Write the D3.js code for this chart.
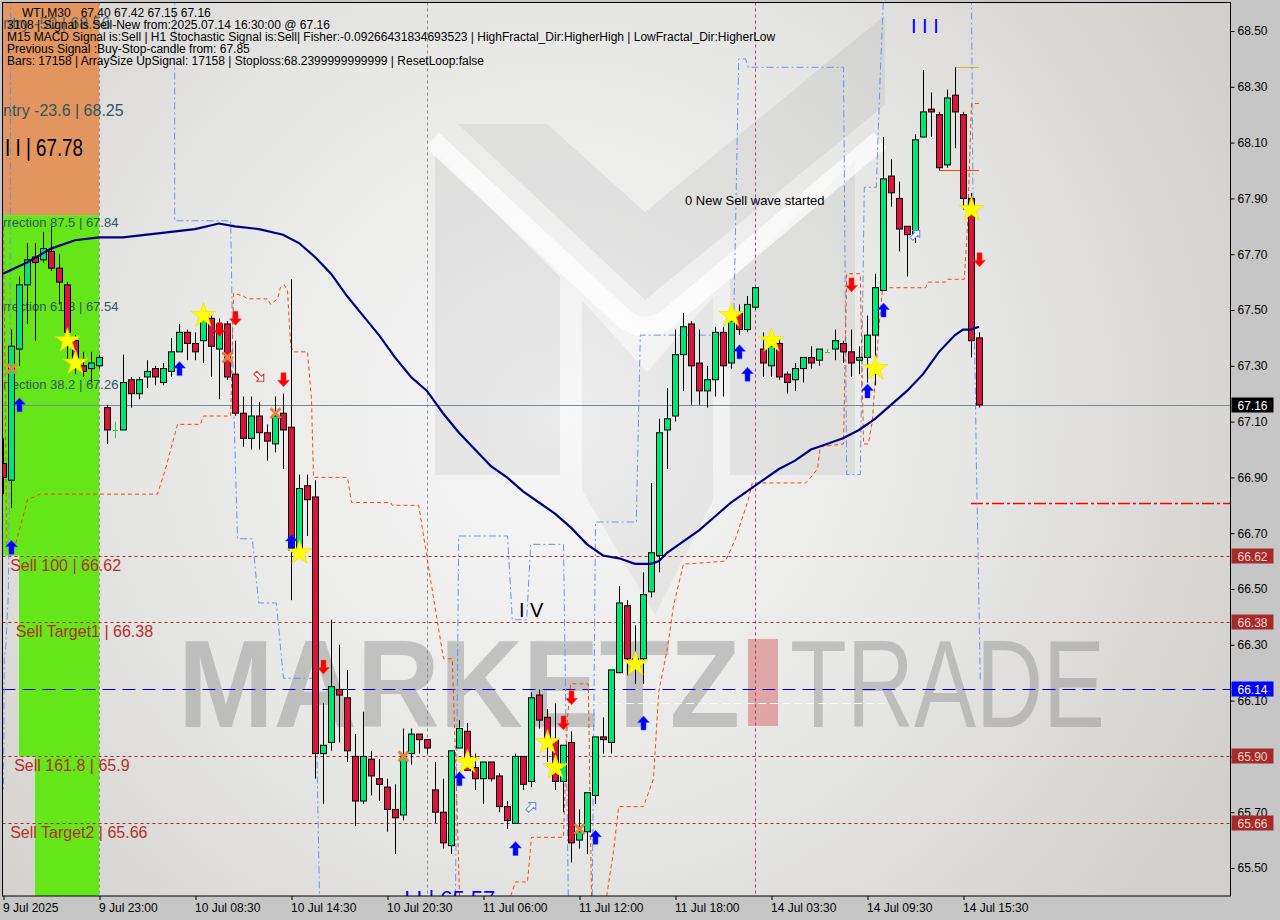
<!DOCTYPE html>
<html><head><meta charset="utf-8">
<script src="https://cdn.jsdelivr.net/npm/d3@7"></script>
<style>
html,body{margin:0;padding:0;background:#c8c8c8;}
svg{display:block;}
text{font-family:"Liberation Sans",Arial,sans-serif;}
</style></head><body>
<svg id="chart" width="1280" height="920"></svg>
<script>
// ---------------- DATA ----------------
const opens = [66.95,66.89,67.36,67.59,67.69,67.68,67.71,67.65,67.59,67.39,
67.30,67.29,67.30,67.15,67.07,67.07,67.25,67.20,67.26,67.29,
67.24,67.28,67.35,67.42,67.38,67.39,67.47,67.36,67.45,67.27,
67.13,67.04,67.12,67.06,67.02,67.13,67.08,66.64,66.87,66.83,
65.91,65.95,66.14,66.11,65.90,65.74,65.89,65.82,65.79,65.71,
65.69,65.91,65.98,65.96,65.78,65.70,65.58,65.93,65.99,65.86,
65.82,65.88,65.83,65.72,65.66,65.90,65.81,66.12,66.04,65.96,
65.81,65.95,65.60,65.63,65.76,65.97,65.95,66.20,66.44,66.23,
66.25,66.49,66.62,67.07,67.12,67.34,67.45,67.31,67.21,67.25,
67.42,67.31,67.49,67.43,67.51,67.36,67.30,67.38,67.27,67.25,
67.29,67.33,67.32,67.35,67.36,67.38,67.35,67.32,67.33,67.41,
67.57,67.98,67.90,67.80,67.77,68.12,68.22,68.20,68.02,68.27,
68.20,67.90,67.40];
const highs = [67.04,67.43,67.62,67.74,67.74,67.78,67.80,67.70,67.60,67.41,
67.35,67.35,67.34,67.16,67.10,67.34,67.26,67.26,67.32,67.30,
67.31,67.40,67.45,67.43,67.42,67.51,67.48,67.47,67.46,67.39,
67.19,67.19,67.17,67.09,67.19,67.20,67.61,66.91,66.91,66.89,
66.09,66.39,66.30,66.21,65.98,66.06,65.92,65.89,65.82,65.80,
66.00,66.00,65.98,65.96,65.88,65.82,65.92,66.03,66.02,65.91,
65.88,65.88,65.84,65.74,65.91,65.90,66.13,66.14,66.07,66.09,
65.94,65.99,65.71,65.77,65.97,66.04,66.21,66.51,66.46,66.37,
66.56,66.88,67.11,67.22,67.43,67.49,67.46,67.43,67.30,67.44,
67.44,67.48,67.52,67.55,67.58,67.42,67.42,67.40,67.28,67.31,
67.33,67.37,67.36,67.36,67.43,67.39,67.43,67.37,67.48,67.63,
68.12,68.04,67.96,67.80,68.13,68.36,68.28,68.21,68.29,68.37,
68.21,67.92,67.42];
const lows = [66.84,66.79,67.30,67.45,67.39,67.67,67.64,67.52,67.32,67.27,
67.26,67.24,67.29,67.02,67.04,67.07,67.15,67.18,67.22,67.23,
67.23,67.26,67.35,67.32,67.32,67.31,67.26,67.18,67.25,67.12,
67.01,67.00,67.00,66.96,66.99,66.93,66.46,66.63,66.69,65.82,
65.73,65.92,65.95,65.88,65.65,65.73,65.76,65.74,65.63,65.55,
65.67,65.87,65.91,65.91,65.66,65.57,65.55,65.93,65.85,65.78,
65.73,65.81,65.70,65.64,65.66,65.78,65.79,66.00,65.88,65.78,
65.70,65.52,65.57,65.55,65.73,65.91,65.91,66.20,66.19,66.16,
66.16,66.47,66.56,66.93,67.10,67.21,67.16,67.16,67.15,67.19,
67.19,67.29,67.41,67.42,67.50,67.26,67.26,67.25,67.20,67.21,
67.24,67.29,67.30,67.35,67.32,67.31,67.26,67.27,67.24,67.23,
67.57,67.87,67.71,67.62,67.74,68.12,68.12,68.00,68.01,68.08,
67.86,67.33,67.15];
const closes = [66.90,67.37,67.59,67.68,67.67,67.72,67.65,67.60,67.42,67.31,
67.28,67.31,67.33,67.07,67.07,67.24,67.20,67.25,67.28,67.26,
67.29,67.35,67.42,67.38,67.35,67.47,67.37,67.45,67.26,67.13,
67.04,67.12,67.06,67.03,67.12,67.07,66.64,66.86,66.82,65.91,
65.94,66.15,66.12,65.92,65.74,65.90,65.83,65.80,65.71,65.68,
65.90,65.98,65.96,65.93,65.70,65.59,65.92,66.00,65.85,65.82,
65.88,65.82,65.72,65.67,65.90,65.80,66.11,66.03,65.95,65.81,
65.94,65.59,65.63,65.77,65.97,65.96,66.21,66.45,66.25,66.25,
66.48,66.63,67.06,67.11,67.34,67.44,67.30,67.21,67.25,67.42,
67.30,67.46,67.43,67.52,67.58,67.31,67.37,67.26,67.24,67.29,
67.33,67.31,67.36,67.35,67.39,67.35,67.31,67.33,67.41,67.58,
67.97,67.92,67.79,67.77,68.11,68.21,68.21,68.01,68.26,68.21,
67.90,67.39,67.16];

const xTickIdx = [0,12,24,36,48,60,72,84,96,108,120];
const xTickLabels = ["9 Jul 2025","9 Jul 23:00","10 Jul 08:30","10 Jul 14:30","10 Jul 20:30","11 Jul 06:00","11 Jul 12:00","11 Jul 18:00","14 Jul 03:30","14 Jul 09:30","14 Jul 15:30"];
const yTicks = [68.5,68.3,68.1,67.9,67.7,67.5,67.3,67.1,66.9,66.7,66.5,66.3,66.1,65.9,65.7,65.5];

// moving average
const maIdx = [0,3,6,9,12,15,18,21,24,27,29,32,35,37,39,41,43,45,47,49,51,53,55,57,59,61,63,65,67,69,71,73,75,77,79,81,82,83,85,87,89,91,93,95,97,99,101,103,105,107,109,111,113,115,117,119,120,121,122];
const maVal = [67.63,67.67,67.72,67.75,67.76,67.76,67.77,67.78,67.79,67.81,67.80,67.79,67.77,67.74,67.69,67.63,67.55,67.48,67.41,67.33,67.26,67.21,67.13,67.06,67.00,66.94,66.90,66.85,66.81,66.77,66.72,66.66,66.62,66.61,66.59,66.59,66.60,66.63,66.67,66.71,66.76,66.81,66.85,66.89,66.93,66.96,67.00,67.02,67.04,67.07,67.11,67.16,67.21,67.27,67.35,67.41,67.43,67.43,67.44];

// blue step channel [barIndex, price]
const blueSteps = [
 [[0.9,68.62],[0.8,67.0],[0.6,66.48],[0.3,66.3],[0.1,66.25],[0.0,65.78]],
 [[21.4,68.62],[21.4,67.82],[28.4,67.82],[28.75,67.19],[29.25,66.68],[31.1,66.68],[31.9,66.45],[34.1,66.45],[35.0,66.18],[39.0,66.18],[39.5,65.40]],
 [[56.5,65.40],[56.9,66.69],[63.0,66.69],[63.6,66.39],[65.4,66.39],[65.9,66.66],[70.0,66.66],[70.6,65.40]],
 [[73.6,65.40],[74.0,66.74],[79.1,66.74],[79.6,67.41],[91.25,67.41],[91.9,68.40],[92.75,68.40],[93.1,68.37],[105.0,68.37],[105.4,66.91],[107.1,66.91],[107.6,67.94],[109.1,67.94],[109.6,68.35],[110.0,68.62]],
 [[121.0,68.62],[121.25,67.65],[121.6,66.97],[121.9,66.50],[122.1,66.17]]
];
// orange trailing step line [barIndex, price]
const orangeSteps = [
 [[0.0,67.80],[0.4,66.66],[0.9,66.62],[1.5,66.66],[3.0,66.82],[4.6,66.84],[19.25,66.84],[20.25,66.93],[21.75,67.09],[24.6,67.09],[25.0,67.12],[28.4,67.12],[28.75,67.56],[30.0,67.55],[30.5,67.54],[33.0,67.54],[33.4,67.52],[34.25,67.54],[34.6,67.58],[35.1,67.59],[35.5,67.57],[35.9,67.37],[36.25,67.35],[38.0,67.35],[38.5,67.18],[38.75,66.90],[43.0,66.90],[43.5,66.81],[48.4,66.81],[48.6,66.80],[51.9,66.80],[53.4,66.53],[55.0,66.25],[56.1,66.25],[56.6,65.82],[57.0,65.40]],
 [[63.4,65.40],[64.0,65.45],[65.5,65.45],[66.0,65.61],[70.0,65.61],[70.5,66.04],[70.9,66.16],[73.1,66.16],[73.5,65.40]],
 [[75.4,65.40],[76.25,65.56],[76.9,65.72],[80.0,65.72],[81.25,65.82],[81.9,66.13],[83.0,66.29],[83.75,66.44],[85.0,66.59],[85.6,66.59],[90.25,66.60],[91.5,66.68],[93.1,66.82],[93.6,66.88],[94.25,66.88],[100.25,66.88],[100.9,66.90],[101.75,66.93],[102.1,67.01],[105.0,67.02],[105.4,67.63],[107.1,67.63],[107.5,67.02],[108.1,67.02],[108.6,67.10],[109.4,67.43],[109.9,67.58],[115.25,67.58],[115.6,67.60],[117.75,67.60],[118.0,67.61],[120.1,67.61],[120.5,67.80],[121.0,68.24],[122.0,68.24]]
];

// markers [barIndex, price]
const starPts = [[8,67.39],[9,67.31],[25,67.48],[37,66.63],[58,65.88],[68,65.95],[69,65.86],[79,66.23],[91,67.48],[96,67.39],[109,67.29],[121,67.86]];
const upArrowPts = [[1,66.65],[2,67.16],[22,67.29],[36,66.67],[57,65.82],[64,65.57],[74,65.61],[80,66.02],[92,67.35],[93,67.27],[108,67.21],[110,67.50]];
const downArrowPts = [[27,67.43],[29,67.47],[35,67.25],[40,66.22],[70,66.02],[71,66.11],[106,67.59],[122,67.68]];
const crossPts = [[1,67.29],[28,67.33],[34,67.13],[50,65.90],[72,65.64]];
const hollowPts = [[32,67.26,135,"#e03020"],[66,65.72,45,"#5b8fe8"],[114,67.77,45,"#5b8fe8"]];

// zones
const zoneStart = [-0.2,-0.2,2,4];
const zoneEnd = [12,12,12,12];
const zoneTop = [68.62,67.84,66.62,65.90];
const zoneBottom = [67.84,66.62,65.90,65.40];
const zoneColor = ["#e2955f","#64e619","#64e619","#64e619"];

// fib texts
const fibTexts = ["Entry -50 | 68.56","Entry -23.6 | 68.25","Correction 87.5 | 67.84","Correction 61.8 | 67.54","Correction 38.2 | 67.26"];
const fibPrice = [68.56,68.25,67.84,67.54,67.26];
const fibSize = [16,16,13,13,13];
const sellTexts = ["Sell 100 | 66.62","Sell Target1 | 66.38","Sell 161.8 | 65.9","Sell Target2 | 65.66"];
const sellPrice = [66.62,66.38,65.90,65.66];
const sellIdx = [0.9,1.6,1.4,0.9];

// levels
const levelPrices = [66.62,66.38,65.90,65.66];
const lastPrice = 67.16;
const bluePrice = 66.14;
const stopLine = 66.81;
const whitePrice = 66.09;
const vLineIdx = [12,53,94];
const vLineColor = ["#8a8a8a","#8a8a8a","#c0308a"];

const headerLines = [
 "3108 | Signal is Sell-New from:2025.07.14 16:30:00 @ 67.16",
 "M15 MACD Signal is:Sell | H1 Stochastic Signal is:Sell| Fisher:-0.09266431834693523 | HighFractal_Dir:HigherHigh | LowFractal_Dir:HigherLow",
 "Previous Signal :Buy-Stop-candle from: 67.85",
 "Bars: 17158 | ArraySize UpSignal: 17158 | Stoploss:68.2399999999999 | ResetLoop:false"
];
const titleText = "WTI,M30   67.40 67.42 67.15 67.16";

// ---------------- CHART ----------------
const W=1280,H=920,L=2.5,T=2.5,R=1230.5,B=896;
const x = d3.scaleLinear().domain([0,122]).range([3,979]);
const y = d3.scaleLinear().domain([68.5,65.5]).range([31,868]);
const svg = d3.select("#chart");
const defs = svg.append("defs");
const rg = defs.append("radialGradient").attr("id","bg").attr("gradientUnits","userSpaceOnUse")
  .attr("cx",560).attr("cy",420).attr("r",760);
rg.append("stop").attr("offset","0%").attr("stop-color","#f8f8f8");
rg.append("stop").attr("offset","55%").attr("stop-color","#e6e6e5");
rg.append("stop").attr("offset","100%").attr("stop-color","#d2d0cc");
defs.append("clipPath").attr("id","plot").append("rect").attr("x",L).attr("y",T).attr("width",R-L).attr("height",B-T);

svg.append("rect").attr("width",W).attr("height",H).attr("fill","#c6c6c6");
svg.append("rect").attr("x",L).attr("y",T).attr("width",R-L).attr("height",B-T).attr("fill","url(#bg)");

const g = svg.append("g").attr("clip-path","url(#plot)");

// watermark logo
const wm = g.append("g");
wm.append("polygon").attr("points","435,152 560,277 560,475 435,475").attr("fill","#000").attr("opacity",0.055);
wm.append("polygon").attr("points","730,280 855,160 855,475 730,475").attr("fill","#000").attr("opacity",0.055);
wm.append("polygon").attr("points","458,124 547,124 645,212 885,15 885,105 645,300").attr("fill","#000").attr("opacity",0.055);
wm.append("polygon").attr("points","582,300 647,372 713,297 713,500 655,615 582,490").attr("fill","#000").attr("opacity",0.045);
wm.append("path").attr("d","M432,140 L620,315 Q645,338 672,315 L880,140").attr("fill","none").attr("stroke","#fff").attr("stroke-width",20).attr("opacity",0.7).attr("stroke-linejoin","round");
wm.append("text").attr("x",178).attr("y",727).attr("font-size",125).attr("font-weight","bold")
  .attr("textLength",562).attr("lengthAdjust","spacingAndGlyphs").attr("fill","#888").attr("opacity",0.42).text("MARKETZ");
wm.append("rect").attr("x",748).attr("y",639).attr("width",30).attr("height",87).attr("fill","#d04040").attr("opacity",0.4);
wm.append("text").attr("x",790).attr("y",727).attr("font-size",125).attr("font-family","Lato, 'Liberation Sans'").attr("font-weight",300)
  .attr("textLength",315).attr("lengthAdjust","spacingAndGlyphs").attr("fill","#888").attr("opacity",0.42).text("TRADE");

// zones
g.append("g").selectAll("rect").data(d3.range(zoneStart.length)).join("rect")
  .attr("x",i=>x(zoneStart[i])).attr("width",i=>x(zoneEnd[i])-x(zoneStart[i]))
  .attr("y",i=>y(zoneTop[i])).attr("height",i=>y(zoneBottom[i])-y(zoneTop[i]))
  .attr("fill",i=>zoneColor[i]);

// vertical separators
g.append("g").selectAll("line").data(d3.range(vLineIdx.length)).join("line")
  .attr("x1",i=>x(vLineIdx[i])+0.5).attr("x2",i=>x(vLineIdx[i])+0.5).attr("y1",T).attr("y2",B)
  .attr("stroke",i=>vLineColor[i]).attr("stroke-dasharray","3,3").attr("stroke-width",1);

// fib texts
g.append("g").selectAll("text").data(d3.range(fibTexts.length)).join("text")
  .attr("x",i=>fibSize[i]===16?-7.7:-13.6).attr("y",i=>y(fibPrice[i])+(fibSize[i]===16?15:12))
  .attr("font-size",i=>fibSize[i]).attr("fill","#2f5560").attr("opacity",i=>i===0?0.8:1).text(i=>fibTexts[i]);
g.append("text").attr("x",5).attr("y",156).attr("font-size",23).attr("textLength",78).attr("lengthAdjust","spacingAndGlyphs").attr("fill","#000").text("I I | 67.78");

// horizontal levels
const hl = g.append("g");
hl.selectAll("line.lv").data(levelPrices).join("line").attr("class","lv")
  .attr("x1",L).attr("x2",R).attr("y1",d=>Math.round(y(d))+0.5).attr("y2",d=>Math.round(y(d))+0.5)
  .attr("stroke","#a52a2a").attr("stroke-dasharray","3,3");
hl.append("line").attr("x1",L).attr("x2",R).attr("y1",Math.round(y(bluePrice))+0.5).attr("y2",Math.round(y(bluePrice))+0.5)
  .attr("stroke","#0000dd").attr("stroke-dasharray","13,7");
hl.append("line").attr("x1",x(73.4)).attr("x2",x(110.6)).attr("y1",Math.round(y(whitePrice))+0.5).attr("y2",Math.round(y(whitePrice))+0.5)
  .attr("stroke","#ffffff").attr("stroke-dasharray","8,4");
hl.append("line").attr("x1",L).attr("x2",R).attr("y1",Math.round(y(lastPrice))+0.5).attr("y2",Math.round(y(lastPrice))+0.5)
  .attr("stroke","#778899");
hl.append("line").attr("x1",x(121)).attr("x2",R).attr("y1",Math.round(y(stopLine))+0.5).attr("y2",Math.round(y(stopLine))+0.5)
  .attr("stroke","#ff0000").attr("stroke-width",1.3).attr("stroke-dasharray","12,3,3,3");
hl.append("line").attr("x1",x(119)).attr("x2",x(122)).attr("y1",Math.round(y(68.37))+0.5).attr("y2",Math.round(y(68.37))+0.5).attr("stroke","#c8b440");
hl.append("line").attr("x1",x(117)).attr("x2",x(122)).attr("y1",Math.round(y(68.0))+0.5).attr("y2",Math.round(y(68.0))+0.5).attr("stroke","#ff4500");

// sell texts
g.append("g").selectAll("text").data(d3.range(sellTexts.length)).join("text")
  .attr("x",i=>x(sellIdx[i])).attr("y",i=>y(sellPrice[i])+15).attr("font-size",16)
  .attr("fill","#b2302a").text(i=>sellTexts[i]);

// step lines
const stepLine = d3.line().x(d=>x(d[0])+0.5).y(d=>y(d[1]));
g.append("g").selectAll("path").data(blueSteps).join("path").attr("d",stepLine)
  .attr("fill","none").attr("stroke","#6495ed").attr("stroke-width",1).attr("stroke-dasharray","7,3,2,3");
g.append("g").selectAll("path").data(orangeSteps).join("path").attr("d",stepLine)
  .attr("fill","none").attr("stroke","#ff4500").attr("stroke-width",1).attr("stroke-dasharray","4,3");

// candles
const idx = d3.range(opens.length);
const cg = g.append("g");
cg.selectAll("line.w").data(idx).join("line").attr("class","w")
  .attr("x1",i=>x(i)+0.5).attr("x2",i=>x(i)+0.5).attr("y1",i=>y(highs[i])).attr("y2",i=>y(lows[i]))
  .attr("stroke",i=>opens[i]===closes[i]?"#32cd32":"#000").attr("stroke-width",1);
cg.selectAll("rect.b").data(idx.filter(i=>opens[i]!==closes[i])).join("rect").attr("class","b")
  .attr("x",i=>x(i)-2.5).attr("width",6)
  .attr("y",i=>y(Math.max(opens[i],closes[i]))).attr("height",i=>Math.max(1,y(Math.min(opens[i],closes[i]))-y(Math.max(opens[i],closes[i]))))
  .attr("fill",i=>closes[i]>opens[i]?"#00e676":"#dc143c").attr("stroke","#000").attr("stroke-width",1);
cg.selectAll("line.d").data(idx.filter(i=>opens[i]===closes[i])).join("line").attr("class","d")
  .attr("x1",i=>x(i)-2).attr("x2",i=>x(i)+3).attr("y1",i=>Math.round(y(opens[i]))+0.5).attr("y2",i=>Math.round(y(opens[i]))+0.5)
  .attr("stroke","#32cd32");

// moving average
const maLine = d3.line().x(d=>x(d)).y((d,k)=>y(maVal[k]));
g.append("path").datum(maIdx).attr("d",maLine).attr("fill","none").attr("stroke","#000080").attr("stroke-width",2.2);

// markers
const mk = g.append("g");
mk.selectAll("path.star").data(starPts).join("path").attr("class","star")
  .attr("d",d3.symbol(d3.symbolStar).size(190)).attr("transform",d=>`translate(${x(d[0])+0.5},${y(d[1])})`)
  .attr("fill","#ffff00").attr("stroke","#f0d800").attr("stroke-width",0.6);
const upA = "M0,-7 L6,-0.5 L2.5,-0.5 L2.5,7 L-2.5,7 L-2.5,-0.5 L-6,-0.5 Z";
mk.selectAll("path.up").data(upArrowPts).join("path").attr("class","up").attr("d",upA)
  .attr("transform",d=>`translate(${x(d[0])+0.5},${y(d[1])})`).attr("fill","#0000ff").attr("stroke","#3050ff").attr("stroke-width",0.5);
mk.selectAll("path.dn").data(downArrowPts).join("path").attr("class","dn").attr("d",upA)
  .attr("transform",d=>`translate(${x(d[0])+0.5},${y(d[1])}) rotate(180)`).attr("fill","#ff0000").attr("stroke","#ff4040").attr("stroke-width",0.5);
mk.selectAll("path.cx").data(crossPts).join("path").attr("class","cx").attr("d","M-5,-5 L5,5 M5,-5 L-5,5")
  .attr("transform",d=>`translate(${x(d[0])+0.5},${y(d[1])})`).attr("stroke","#e8843c").attr("stroke-width",3).attr("fill","none");
mk.selectAll("path.ho").data(hollowPts).join("path").attr("class","ho").attr("d","M0,-6 L5,-1 L2,-1 L2,6 L-2,6 L-2,-1 L-5,-1 Z")
  .attr("transform",d=>`translate(${x(d[0])+0.5},${y(d[1])}) rotate(${d[2]})`).attr("stroke",d=>d[3]).attr("fill","#fff").attr("stroke-width",1);

// wave / signal texts
g.append("text").attr("x",685).attr("y",205).attr("font-size",13).attr("fill","#000").text("0 New Sell wave started");
g.append("text").attr("x",519).attr("y",617).attr("font-size",20).attr("fill","#000").text("I V");
g.append("text").attr("x",911).attr("y",33).attr("font-size",20).attr("fill","#0000ff").text("I I I");
g.append("text").attr("x",404).attr("y",906).attr("font-size",22).attr("fill","#0000ff").text("I I | 65.57");

// header
g.append("text").attr("x",22).attr("y",17).attr("font-size",12).attr("fill","#000").style("white-space","pre").text(titleText);
g.append("g").selectAll("text").data(headerLines).join("text")
  .attr("x",7).attr("y",(d,k)=>29+12*k).attr("font-size",12).attr("fill","#000").text(d=>d);

// frame
svg.append("rect").attr("x",L).attr("y",T).attr("width",R-L).attr("height",B-T).attr("fill","none").attr("stroke","#000");

// axes
const yAxis = d3.axisRight(y).tickValues(yTicks).tickFormat(d3.format(".2f")).tickSize(4).tickPadding(3);
const ya = svg.append("g").attr("transform",`translate(${R},0)`).call(yAxis);
ya.select(".domain").remove();
ya.selectAll("text").attr("font-size",12).attr("fill","#000").attr("font-family","'Liberation Sans',Arial");
const xAxis = d3.axisBottom(x).tickValues(xTickIdx).tickFormat((d,k)=>xTickLabels[k]).tickSize(4).tickPadding(3);
const xa = svg.append("g").attr("transform",`translate(0.5,${B})`).call(xAxis);
xa.select(".domain").remove();
xa.selectAll("text").attr("font-size",12).attr("fill","#000").attr("text-anchor","start").attr("dx",-1).attr("font-family","'Liberation Sans',Arial");

// price boxes
const boxes = levelPrices.map(p=>({p,bg:"#a52a2a",fg:"#f2d2cc"}))
  .concat([{p:bluePrice,bg:"#0000ff",fg:"#ffffff"},{p:lastPrice,bg:"#000000",fg:"#ffffff"}]);
const bx = svg.append("g").selectAll("g").data(boxes).join("g").attr("transform",d=>`translate(${R+1},${Math.round(y(d.p))})`);
bx.append("rect").attr("x",0).attr("y",-7.5).attr("width",42).attr("height",15).attr("fill",d=>d.bg);
bx.append("text").attr("x",6).attr("y",4.5).attr("font-size",12).attr("fill",d=>d.fg).text(d=>d3.format(".2f")(d.p));
</script>
</body></html>
